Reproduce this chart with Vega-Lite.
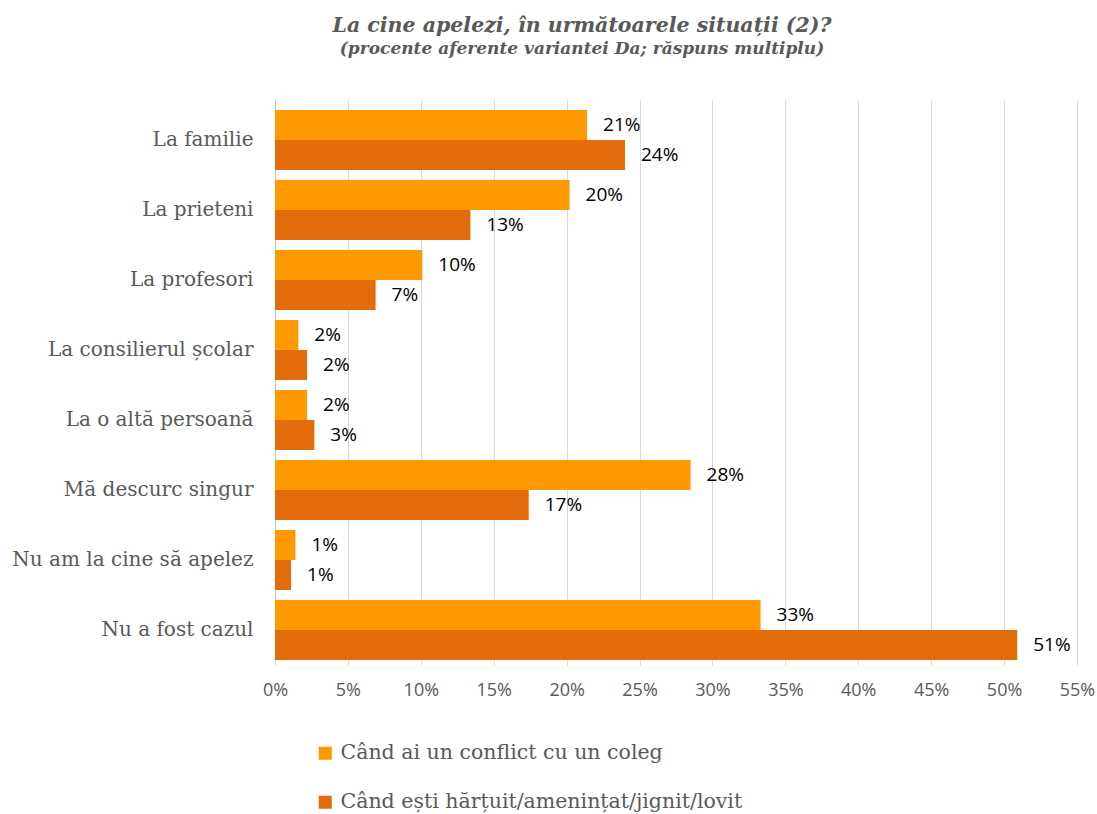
{
  "$schema": "https://vega.github.io/schema/vega-lite/v6.json",
  "autosize": "none",
  "width": 802,
  "height": 560,
  "padding": {"left": 275, "top": 100, "right": 20, "bottom": 154},
  "background": "white",
  "title": {
    "text": "La cine apelezi, în următoarele situații (2)?",
    "subtitle": "(procente aferente variantei Da; răspuns multiplu)",
    "anchor": "middle",
    "frame": "group",
    "dx": -94,
    "offset": 43,
    "font": "DejaVu Serif",
    "fontSize": 20.5,
    "fontStyle": "italic",
    "fontWeight": "bold",
    "color": "#595959",
    "subtitleFont": "DejaVu Serif",
    "subtitleFontSize": 17,
    "subtitleFontStyle": "italic",
    "subtitleFontWeight": "bold",
    "subtitleColor": "#595959",
    "subtitlePadding": 5
  },
  "data": {
    "values": [
      {"categorie": "La familie", "situatie": "Când ai un conflict cu un coleg", "valoare": 0.214},
      {"categorie": "La familie", "situatie": "Când ești hărțuit/amenințat/jignit/lovit", "valoare": 0.240},
      {"categorie": "La prieteni", "situatie": "Când ai un conflict cu un coleg", "valoare": 0.202},
      {"categorie": "La prieteni", "situatie": "Când ești hărțuit/amenințat/jignit/lovit", "valoare": 0.134},
      {"categorie": "La profesori", "situatie": "Când ai un conflict cu un coleg", "valoare": 0.101},
      {"categorie": "La profesori", "situatie": "Când ești hărțuit/amenințat/jignit/lovit", "valoare": 0.069},
      {"categorie": "La consilierul școlar", "situatie": "Când ai un conflict cu un coleg", "valoare": 0.016},
      {"categorie": "La consilierul școlar", "situatie": "Când ești hărțuit/amenințat/jignit/lovit", "valoare": 0.022},
      {"categorie": "La o altă persoană", "situatie": "Când ai un conflict cu un coleg", "valoare": 0.022},
      {"categorie": "La o altă persoană", "situatie": "Când ești hărțuit/amenințat/jignit/lovit", "valoare": 0.027},
      {"categorie": "Mă descurc singur", "situatie": "Când ai un conflict cu un coleg", "valoare": 0.285},
      {"categorie": "Mă descurc singur", "situatie": "Când ești hărțuit/amenințat/jignit/lovit", "valoare": 0.174},
      {"categorie": "Nu am la cine să apelez", "situatie": "Când ai un conflict cu un coleg", "valoare": 0.014},
      {"categorie": "Nu am la cine să apelez", "situatie": "Când ești hărțuit/amenințat/jignit/lovit", "valoare": 0.011},
      {"categorie": "Nu a fost cazul", "situatie": "Când ai un conflict cu un coleg", "valoare": 0.333},
      {"categorie": "Nu a fost cazul", "situatie": "Când ești hărțuit/amenințat/jignit/lovit", "valoare": 0.509}
    ]
  },
  "encoding": {
    "y": {
      "field": "categorie",
      "type": "nominal",
      "sort": null,
      "title": null,
      "scale": {"paddingInner": 0.143, "paddingOuter": 0.071, "align": 1},
      "axis": {
        "ticks": false,
        "domainColor": "#bfbfbf",
        "domainWidth": 1,
        "labelFont": "DejaVu Serif",
        "labelFontSize": 20,
        "labelColor": "#595959",
        "labelPadding": 22,
        "labelLimit": 300
      }
    },
    "yOffset": {
      "field": "situatie",
      "type": "nominal",
      "sort": null
    },
    "x": {
      "field": "valoare",
      "type": "quantitative",
      "title": null,
      "scale": {"domain": [0, 0.55], "nice": false},
      "axis": {
        "values": [0, 0.05, 0.1, 0.15, 0.2, 0.25, 0.3, 0.35, 0.4, 0.45, 0.5, 0.55],
        "format": ".0%",
        "grid": true,
        "gridColor": "#d9d9d9",
        "domain": false,
        "ticks": true,
        "tickColor": "#d9d9d9",
        "tickSize": 5,
        "labelFlush": false,
        "labelFont": "Open Sans",
        "labelFontSize": 18,
        "labelColor": "#595959",
        "labelPadding": 16
      }
    }
  },
  "layer": [
    {
      "mark": {"type": "bar"},
      "encoding": {
        "color": {
          "field": "situatie",
          "type": "nominal",
          "sort": null,
          "title": null,
          "scale": {
            "domain": ["Când ai un conflict cu un coleg", "Când ești hărțuit/amenințat/jignit/lovit"],
            "range": ["#ff9900", "#e36c0a"]
          },
          "legend": {
            "orient": "none",
            "legendX": 40,
            "legendY": 643,
            "direction": "vertical",
            "symbolType": "square",
            "symbolSize": 170,
            "symbolStrokeWidth": 0,
            "symbolOpacity": 1,
            "labelFont": "DejaVu Serif",
            "labelFontSize": 20.5,
            "labelColor": "#595959",
            "labelLimit": 600,
            "rowPadding": 28,
            "labelOffset": 5
          }
        }
      }
    },
    {
      "mark": {
        "type": "text",
        "align": "left",
        "baseline": "middle",
        "dx": 16,
        "font": "Open Sans",
        "fontSize": 19,
        "color": "#000000"
      },
      "encoding": {
        "text": {"field": "valoare", "type": "quantitative", "format": ".0%"}
      }
    }
  ],
  "config": {
    "view": {"stroke": null}
  }
}
